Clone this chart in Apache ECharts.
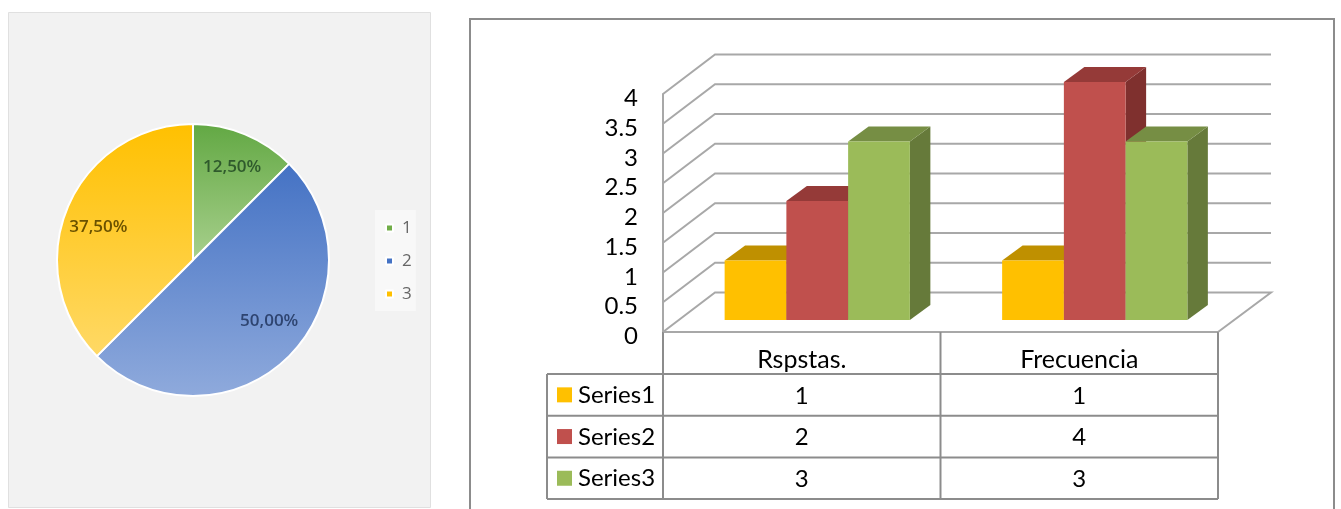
<!DOCTYPE html>
<html>
<head>
<meta charset="utf-8">
<style>html,body{margin:0;padding:0;background:#fff}#c{width:1341px;height:509px}</style>
<script src="https://cdn.jsdelivr.net/npm/echarts@6/dist/echarts.min.js"></script>
</head>
<body>
<div id="c"></div>
<script>
// ---- data ----
var pieNames = ['1', '2', '3'];
var pieValues = [12.5, 50, 37.5];
var categories = ['Rspstas.', 'Frecuencia'];
var seriesNames = ['Series1', 'Series2', 'Series3'];
var series1 = [1, 1];
var series2 = [2, 4];
var series3 = [3, 3];
var yTicks = [0, 0.5, 1, 1.5, 2, 2.5, 3, 3.5, 4];

// ---- style ----
var FONT = 'Lato';
var GRID = '#a8a8a8';
var TBL = '#8c8c8c';
var faces = [
  { front: '#ffc000', top: '#bf9000', side: '#a67d00' },
  { front: '#c0504d', top: '#953a38', side: '#7f302e' },
  { front: '#9bbb59', top: '#768e44', side: '#667a3a' }
];
var allSeries = [series1, series2, series3];
var wallDX = 52, wallDY = -39.5, barLift = -12, barShift = 15.5, depthX = 20.5, depthY = -15;
var rowTop = 374, rowH = 41.7, tblLeft = 547;

function band(api) { return api.size([1, 0])[0]; }

function wallItem(params, api) {
  var p = api.coord([0, api.value(1)]);
  var b = band(api);
  var left = p[0] - b / 2, right = left + b * categories.length;
  var pts = [[left, p[1]], [left + wallDX, p[1] + wallDY], [right + wallDX + 1, p[1] + wallDY]];
  if (api.value(1) === 0) pts.push([right, p[1]]);
  return { type: 'polyline', shape: { points: pts }, style: { stroke: GRID, fill: 'none', lineWidth: 2 } };
}

function barRenderer(s) {
  return function (params, api) {
    var b = band(api);
    var w = b * 0.2225;
    var top = api.coord([api.value(0), api.value(1)]);
    var base = api.coord([api.value(0), 0]);
    var x0 = top[0] + barShift + (s - 1) * w - w / 2, x1 = x0 + w;
    var y0 = top[1] + barLift, y1 = base[1] + barLift;
    var f = faces[s];
    return {
      type: 'group',
      children: [
        { type: 'polygon', shape: { points: [[x1, y0], [x1 + depthX, y0 + depthY], [x1 + depthX, y1 + depthY], [x1, y1]] }, style: { fill: f.side } },
        { type: 'polygon', shape: { points: [[x0, y0], [x0 + depthX, y0 + depthY], [x1 + depthX, y0 + depthY], [x1, y0]] }, style: { fill: f.top } },
        { type: 'rect', shape: { x: x0, y: y0, width: w, height: y1 - y0 }, style: { fill: f.front } }
      ]
    };
  };
}

function tableItem(params, api) {
  var c = api.value(0), r = api.value(1), v = api.value(2);
  var p = api.coord([c, 0]);
  return {
    type: 'text',
    style: {
      text: String(v), x: p[0], y: rowTop + rowH * (r + 0.5) + 1,
      align: 'center', verticalAlign: 'middle',
      fontFamily: FONT, fontSize: 24, fill: '#000'
    }
  };
}

var tableData = [];
allSeries.forEach(function (vals, r) {
  vals.forEach(function (v, c) { tableData.push([c, r, v]); });
});

var series = [{
  type: 'custom', name: 'walls', coordinateSystem: 'cartesian2d', clip: false, silent: true, z: 1,
  renderItem: wallItem, encode: { x: 0, y: 1 },
  data: yTicks.map(function (t) { return [0, t]; })
}];
allSeries.forEach(function (vals, s) {
  series.push({
    type: 'custom', name: seriesNames[s], coordinateSystem: 'cartesian2d', clip: false, z: 3 + s,
    renderItem: barRenderer(s), encode: { x: 0, y: 1 },
    data: vals.map(function (v, i) { return [i, v]; })
  });
});
series.push({
  type: 'custom', name: 'table', coordinateSystem: 'cartesian2d', clip: false, silent: true, z: 8,
  renderItem: tableItem, encode: { x: 0, y: 1 }, data: tableData
});
series.push({
  type: 'pie', name: 'pie', center: [193, 260], radius: [0, 136], startAngle: 90,
  silent: true, z: 3,
  data: pieNames.map(function (n, i) {
    var stops = [['#62a843', '#a8d08d'], ['#4472c4', '#8faadc'], ['#ffc000', '#ffd966']][i];
    return {
      name: n, value: pieValues[i],
      itemStyle: { color: { type: 'linear', x: 0, y: 0, x2: 0, y2: 1, colorStops: [{ offset: 0, color: stops[0] }, { offset: 1, color: stops[1] }] } },
      label: { color: ['#2f5a2c', '#2e4470', '#6b5200'][i] }
    };
  }),
  itemStyle: { borderColor: '#fff', borderWidth: 2 },
  label: {
    show: true, position: 'inside', fontFamily: 'Open Sans', fontSize: 17, fontWeight: 600,
    formatter: function (p) { return p.value.toFixed(2).replace('.', ',') + '%'; }
  },
  labelLine: { show: false },
  labelLayout: function (p) {
    return [{ dx: 12, dy: -27 }, { dx: 26, dy: 11 }, { dx: -29, dy: -6 }][p.dataIndex];
  }
});

// table frame and row headers
var g = [
  { type: 'rect', z: 0, shape: { x: 8.5, y: 12.5, width: 422, height: 495 }, style: { fill: '#f2f2f2', stroke: '#e0e0e0', lineWidth: 1 } },
  { type: 'polyline', z: 0, shape: { points: [[470, 515], [470, 19], [1334, 19], [1334, 515]] }, style: { stroke: '#8c8c8c', fill: 'none', lineWidth: 2 } }
];
function tblLine(a, b) {
  g.push({ type: 'line', z: 1, shape: { x1: a[0], y1: a[1], x2: b[0], y2: b[1] }, style: { stroke: TBL, lineWidth: 2 } });
}
[0, 1, 2, 3].forEach(function (i) { tblLine([tblLeft, rowTop + rowH * i], [1218, rowTop + rowH * i]); });
tblLine([tblLeft, rowTop], [tblLeft, rowTop + rowH * 3]);
[663, 940.5, 1218].forEach(function (x) { tblLine([x, 332], [x, rowTop + rowH * 3]); });
seriesNames.forEach(function (n, i) {
  var cy = rowTop + rowH * (i + 0.5);
  g.push({ type: 'rect', z: 2, shape: { x: 557, y: cy - 7.5, width: 15, height: 15 }, style: { fill: faces[i].front } });
  g.push({ type: 'text', z: 2, style: { text: n, x: 578, y: cy + 0.5, align: 'left', verticalAlign: 'middle', fontFamily: FONT, fontSize: 24, fill: '#000' } });
});

var chart = echarts.init(document.getElementById('c'), null, { renderer: 'canvas' });
chart.setOption({
  animation: false,
  backgroundColor: '#fff',
  tooltip: { show: false },
  grid: { left: 663, top: 94, width: 555, height: 238, containLabel: false },
  xAxis: {
    type: 'category', data: categories,
    axisLine: { show: true, lineStyle: { color: GRID, width: 2 } },
    axisTick: { show: false },
    axisLabel: { fontFamily: FONT, fontSize: 25, color: '#000', margin: 15 },
    splitLine: { show: false }
  },
  yAxis: {
    type: 'value', min: 0, max: 4, interval: 0.5,
    axisLine: { show: true, lineStyle: { color: GRID, width: 2 } },
    axisTick: { show: false },
    axisLabel: { fontFamily: FONT, fontSize: 24, color: '#000', margin: 25, verticalAlign: 'top', lineHeight: 9 },
    splitLine: { show: false }
  },
  legend: {
    show: true, orient: 'vertical', left: 375, top: 210, padding: [8, 4, 7, 10],
    itemWidth: 7, itemHeight: 7, itemGap: 13, backgroundColor: '#f8f8f8',
    textStyle: { fontFamily: 'Open Sans', fontSize: 17, color: '#666', padding: [0, 0, 0, 4], lineHeight: 20 },
    data: pieNames.map(function (n, i) {
      return { name: n, icon: 'rect', itemStyle: { color: ['#70ad47', '#4472c4', '#ffc000'][i] } };
    })
  },
  graphic: g,
  series: series
});
</script>
</body>
</html>
